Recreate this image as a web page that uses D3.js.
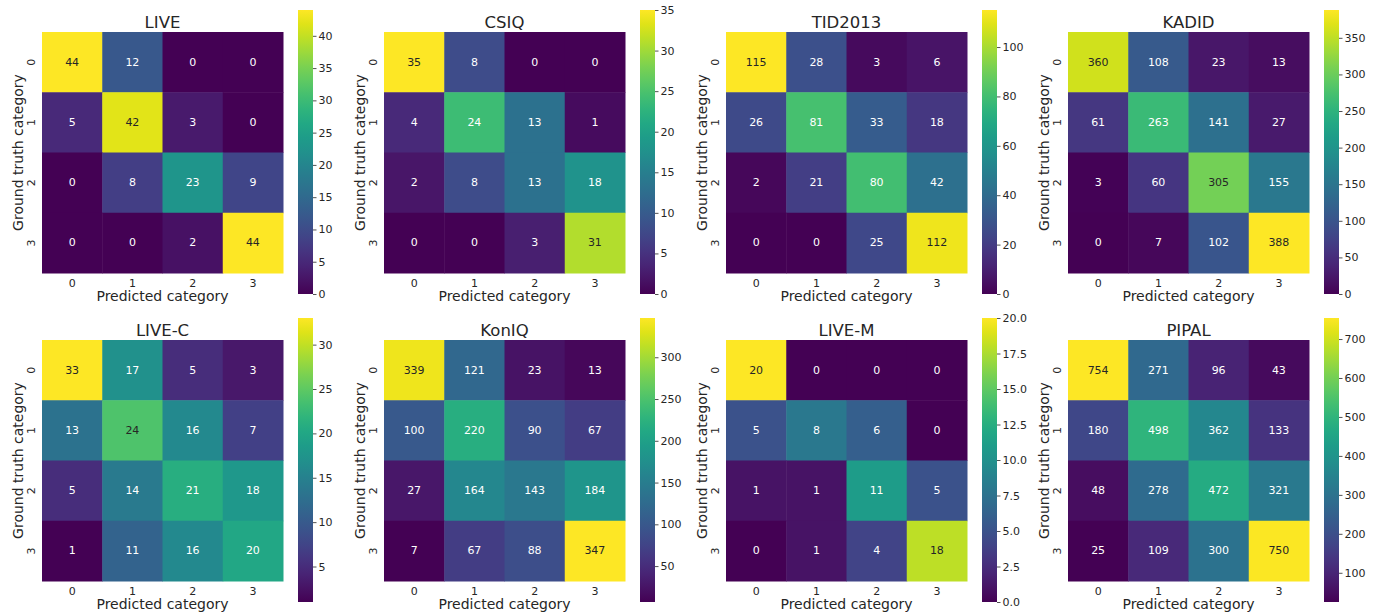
<!DOCTYPE html>
<html>
<head>
<meta charset="utf-8">
<script src="https://cdn.jsdelivr.net/npm/d3@7"></script>
<style>
  body { margin: 0; background: #fff; }
  text { font-family: "DejaVu Sans", sans-serif; fill: #262626; }
</style>
</head>
<body>
<div id="chart"></div>
<script>
// confusion matrices, rows = ground truth, cols = predicted
const categories = ["0", "1", "2", "3"];
const titles = ["LIVE", "CSIQ", "TID2013", "KADID", "LIVE-C", "KonIQ", "LIVE-M", "PIPAL"];

const live   = [[44, 12, 0, 0], [5, 42, 3, 0], [0, 8, 23, 9], [0, 0, 2, 44]];
const csiq   = [[35, 8, 0, 0], [4, 24, 13, 1], [2, 8, 13, 18], [0, 0, 3, 31]];
const tid    = [[115, 28, 3, 6], [26, 81, 33, 18], [2, 21, 80, 42], [0, 0, 25, 112]];
const kadid  = [[360, 108, 23, 13], [61, 263, 141, 27], [3, 60, 305, 155], [0, 7, 102, 388]];
const livec  = [[33, 17, 5, 3], [13, 24, 16, 7], [5, 14, 21, 18], [1, 11, 16, 20]];
const koniq  = [[339, 121, 23, 13], [100, 220, 90, 67], [27, 164, 143, 184], [7, 67, 88, 347]];
const livem  = [[20, 0, 0, 0], [5, 8, 6, 0], [1, 1, 11, 5], [0, 1, 4, 18]];
const pipal  = [[754, 271, 96, 43], [180, 498, 362, 133], [48, 278, 472, 321], [25, 109, 300, 750]];

const matrices = [live, csiq, tid, kadid, livec, koniq, livem, pipal];

// colorbar ticks for each panel
const cbTicks = [
  [0, 5, 10, 15, 20, 25, 30, 35, 40],
  [0, 5, 10, 15, 20, 25, 30, 35],
  [0, 20, 40, 60, 80, 100],
  [0, 50, 100, 150, 200, 250, 300, 350],
  [5, 10, 15, 20, 25, 30],
  [50, 100, 150, 200, 250, 300],
  [0, 2.5, 5, 7.5, 10, 12.5, 15, 17.5, 20],
  [100, 200, 300, 400, 500, 600, 700]
];

const W = 1376, H = 616;
const size = 241;          // heatmap side
const stepX = 342, stepY = 308;
const left0 = 42, top0 = 32;

const svg = d3.select("#chart").append("svg")
  .attr("width", W).attr("height", H);

const defs = svg.append("defs");
// one shared vertical gradient for the colorbars
const grad = defs.append("linearGradient").attr("id", "viridis")
  .attr("x1", 0).attr("y1", 1).attr("x2", 0).attr("y2", 0);
d3.range(0, 1.0001, 0.05).forEach(t => {
  grad.append("stop").attr("offset", t).attr("stop-color", d3.interpolateViridis(t));
});

// seaborn picks dark or white annotation text from luminance
function luminance(c) {
  const rgb = d3.rgb(c);
  const f = v => { v /= 255; return v <= 0.03928 ? v / 12.92 : Math.pow((v + 0.055) / 1.055, 2.4); };
  return 0.2126 * f(rgb.r) + 0.7152 * f(rgb.g) + 0.0722 * f(rgb.b);
}

matrices.forEach((m, k) => {
  const col = k % 4, row = Math.floor(k / 4);
  const ox = left0 + col * stepX, oy = top0 + row * stepY;
  const g = svg.append("g").attr("transform", `translate(${ox},${oy})`);

  const flat = m.flat();
  const vmin = d3.min(flat), vmax = d3.max(flat);
  const color = d3.scaleSequential(d3.interpolateViridis).domain([vmin, vmax]);

  const x = d3.scaleBand().domain(categories).range([0, size]);
  const y = d3.scaleBand().domain(categories).range([0, size]);

  const cells = [];
  m.forEach((r, i) => r.forEach((v, j) => cells.push({ i, j, v })));

  g.selectAll("rect.cell").data(cells).join("rect")
    .attr("class", "cell")
    .attr("x", d => x(categories[d.j]))
    .attr("y", d => y(categories[d.i]))
    .attr("width", x.bandwidth() + 0.5)
    .attr("height", y.bandwidth() + 0.5)
    .attr("fill", d => color(d.v));

  g.selectAll("text.ann").data(cells).join("text")
    .attr("class", "ann")
    .attr("x", d => x(categories[d.j]) + x.bandwidth() / 2)
    .attr("y", d => y(categories[d.i]) + y.bandwidth() / 2)
    .attr("text-anchor", "middle")
    .attr("dominant-baseline", "central")
    .attr("font-size", "11px")
    .style("fill", d => luminance(color(d.v)) > 0.408 ? "#262626" : "#ffffff")
    .text(d => d.v);

  // x axis
  const xa = g.append("g").attr("transform", `translate(0,${size})`)
    .call(d3.axisBottom(x).tickSize(0).tickPadding(6));
  xa.select(".domain").remove();
  xa.selectAll("text").attr("font-size", "11px").style("fill", "#262626");

  // y axis, labels rotated
  const ya = g.append("g").call(d3.axisLeft(y).tickSize(0).tickPadding(6));
  ya.select(".domain").remove();
  ya.selectAll("text")
    .attr("font-size", "11px").style("fill", "#262626")
    .attr("text-anchor", "middle")
    .attr("dy", 0)
    .attr("x", 0)
    .attr("transform", "translate(-7,0) rotate(-90)");

  g.append("text")
    .attr("x", size / 2).attr("y", -4)
    .attr("text-anchor", "middle")
    .attr("font-size", "16.5px")
    .text(titles[k]);

  g.append("text")
    .attr("x", size / 2).attr("y", size + 28)
    .attr("text-anchor", "middle")
    .attr("font-size", "14px")
    .text("Predicted category");

  g.append("text")
    .attr("transform", `translate(-19,${size / 2}) rotate(-90)`)
    .attr("text-anchor", "middle")
    .attr("font-size", "14px")
    .text("Ground truth category");

  // colorbar
  const cbx = 256, cby = -22, cbh = 284, cbw = 15;
  const cb = g.append("g").attr("transform", `translate(${cbx},${cby})`);
  cb.append("rect").attr("width", cbw).attr("height", cbh).attr("fill", "url(#viridis)");
  const cs = d3.scaleLinear().domain([vmin, vmax]).range([cbh, 0]);
  const fmt = cbTicks[k].some(t => t % 1 !== 0) ? d3.format(".1f") : d3.format("d");
  const ca = cb.append("g").attr("transform", `translate(${cbw},0)`)
    .call(d3.axisRight(cs).tickValues(cbTicks[k]).tickFormat(fmt).tickSize(3.5).tickPadding(2));
  ca.select(".domain").remove();
  ca.selectAll("line").attr("stroke", "#262626").attr("stroke-width", 0.8);
  ca.selectAll("text").attr("font-size", "11px").style("fill", "#262626");
});
</script>
</body>
</html>
